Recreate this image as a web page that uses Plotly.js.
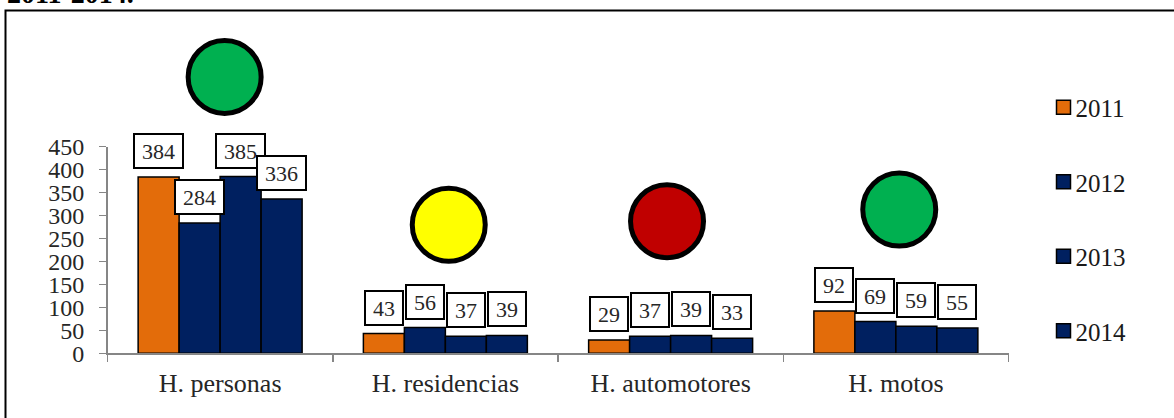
<!DOCTYPE html>
<html>
<head>
<meta charset="utf-8">
<script src="https://cdn.plot.ly/plotly-3.0.1.min.js"></script>
<style>html,body{margin:0;padding:0;background:#fff;overflow:hidden}</style>
</head>
<body>
<div id="chart" style="width:1174px;height:418px"></div>
<script>
const categories = ['H. personas', 'H. residencias', 'H. automotores', 'H. motos'];
const years = ['2011', '2012', '2013', '2014'];
const values2011 = [384, 43, 29, 92];
const values2012 = [284, 56, 37, 69];
const values2013 = [385, 37, 39, 59];
const values2014 = [336, 39, 33, 55];
const yearColors = ['#E36C0A', '#002060', '#002060', '#002060'];
const lightX = [0.02, 1.015, 1.984, 3.015];
const lightY = [602, 280, 287.6, 313];
const lightColors = ['#00B050', '#FFFF00', '#C00000', '#00B050'];
const yTicks = [0, 50, 100, 150, 200, 250, 300, 350, 400, 450];
const titleFragment = '2011-2014.';

const W = 1174, H = 418;
const series = [values2011, values2012, values2013, values2014];
const font = 'Liberation Serif, serif';

const bars = series.map((vals, i) => ({
  type: 'bar', x: categories, y: vals, name: years[i], showlegend: false,
  marker: {color: yearColors[i], line: {color: '#000', width: 1.5}}, hoverinfo: 'x+y+name'
}));
const legendSwatches = years.map((yr, i) => ({
  type: 'scatter', mode: 'markers', x: [null], y: [null], xaxis: 'x2', yaxis: 'y2', name: yr, legendgroup: yr,
  marker: {symbol: 'square', size: 14, color: yearColors[i], line: {color: '#000', width: 1.5}}
}));
const lights = {
  type: 'scatter', mode: 'markers', x: lightX, y: lightY, xaxis: 'x2', yaxis: 'y2', showlegend: false,
  hoverinfo: 'skip',
  marker: {size: 73, color: lightColors, line: {color: '#000', width: 5}}
};

const annotations = [];
series.forEach((vals, i) => vals.forEach((v, c) => {
  const wide = v >= 100;
  annotations.push({
    x: categories[c], y: v, xref: 'x', yref: 'y', text: String(v), showarrow: false,
    xshift: (i - 1.5) * 41, yshift: 26, xanchor: 'center', yanchor: 'middle',
    width: wide ? 45 : 34, height: 30, align: 'center', valign: 'middle',
    bgcolor: '#fff', bordercolor: '#000', borderwidth: 2, borderpad: 1,
    font: {family: font, size: 22, color: '#262626'}
  });
}));
annotations.push({
  x: 5 / W, y: 1 - 11 / H, xref: 'paper', yref: 'paper', xanchor: 'left', yanchor: 'bottom',
  text: '<b>' + titleFragment + '</b>', showarrow: false,
  font: {family: font, size: 28, color: '#000'}
});

const yScale = (353.3 - 146.7) / 450;
const layout = {
  width: W, height: H, margin: {l: 0, r: 0, t: 0, b: 0}, autosize: false,
  paper_bgcolor: '#fff', plot_bgcolor: 'rgba(0,0,0,0)', showlegend: true,
  barmode: 'group', bargap: 0.272, bargroupgap: 0,
  font: {family: font, size: 24, color: '#262626'},
  xaxis: {
    type: 'category', domain: [107.5 / W, 1008.5 / W], tickson: 'boundaries',
    ticks: 'outside', ticklen: 7, tickwidth: 1.5, tickcolor: '#868686',
    showline: true, linecolor: '#868686', linewidth: 1.5, showgrid: false, zeroline: false,
    ticklabelstandoff: 6, tickfont: {family: font, size: 26, color: '#262626'}
  },
  xaxis2: {
    domain: [107.5 / W, 1008.5 / W], range: [-0.5, 3.5], anchor: 'y2',
    visible: false, fixedrange: true
  },
  yaxis: {
    domain: [(H - 353.3) / H, (H - 146.7) / H], range: [0, 450], tickvals: yTicks,
    ticks: 'outside', ticklen: 7, tickwidth: 1.5, tickcolor: '#868686',
    showline: true, linecolor: '#868686', linewidth: 1.5, showgrid: false, zeroline: false,
    ticklabelstandoff: 10, tickfont: {family: font, size: 24, color: '#262626'}
  },
  yaxis2: {
    domain: [(H - 353.3) / H, 1], range: [0, 353.3 / yScale], anchor: 'x2',
    visible: false, fixedrange: true
  },
  legend: {
    x: 1043.5 / W, y: 1 - 84.5 / H, xanchor: 'left', yanchor: 'top', tracegroupgap: 39,
    bgcolor: 'rgba(0,0,0,0)', font: {family: font, size: 25, color: '#1a1a1a'}
  },
  annotations: annotations,
  shapes: [{
    type: 'rect', xref: 'paper', yref: 'paper', x0: 5.5 / W, x1: 1.02, y0: -0.02, y1: 1 - 10.5 / H,
    line: {color: '#000', width: 2}, fillcolor: 'rgba(0,0,0,0)', layer: 'below'
  }]
};

Plotly.newPlot('chart', [...bars, lights, ...legendSwatches], layout, {displayModeBar: false, staticPlot: true}).then(gd => {
  // The swatch-to-text gap of the reference is tighter than Plotly's fixed legend gap.
  gd.querySelectorAll('.legend .legendtext').forEach(t => {
    t.setAttribute('x', parseFloat(t.getAttribute('x')) - 8);
  });
});
</script>
</body>
</html>
